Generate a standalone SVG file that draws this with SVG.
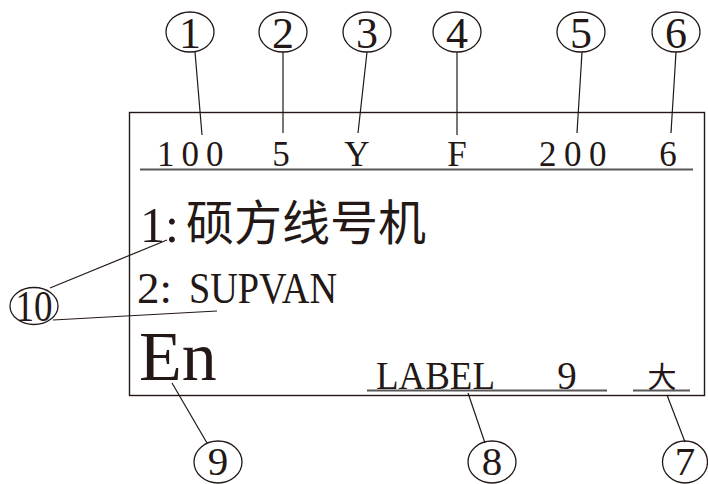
<svg xmlns="http://www.w3.org/2000/svg" width="708" height="484" viewBox="0 0 708 484">
<style>
.bg{fill:#ffffff}
.frame{fill:none;stroke:#231815;stroke-width:1.4}
.rule{stroke:#595757;stroke-width:2}
.lead{stroke:#231815;stroke-width:1.2;fill:none}
.callout{fill:none;stroke:#231815;stroke-width:1.3}
.num{font-family:"Liberation Serif",serif;font-size:44px;fill:#231815;text-anchor:middle}
.numb{font-family:"Liberation Serif",serif;font-size:41px;fill:#231815;text-anchor:middle}
.t{font-family:"Liberation Serif","Noto Sans CJK SC",serif;fill:#231815}
.cjk{font-family:"Noto Sans CJK SC","Liberation Serif",sans-serif;fill:#231815}
</style>
<rect class="bg" x="0" y="0" width="708" height="484"/>

<g id="screen">
<rect class="frame" x="129.5" y="112.5" width="575" height="283"/>
<line class="rule" x1="140" y1="169.5" x2="693" y2="169.5"/>
<line class="rule" x1="367" y1="390.5" x2="607" y2="390.5"/>
<line class="rule" x1="633" y1="390.5" x2="690" y2="390.5"/>
</g>

<g id="header-text">
<text class="t" x="157" y="166" font-size="35" letter-spacing="7">100</text>
<text class="t" x="281" y="166" font-size="35" text-anchor="middle">5</text>
<text class="t" x="357" y="166" font-size="35" text-anchor="middle">Y</text>
<text class="t" x="457" y="166" font-size="35" text-anchor="middle">F</text>
<text class="t" x="539" y="166" font-size="35" letter-spacing="7.5">200</text>
<text class="t" x="668" y="166" font-size="35" text-anchor="middle">6</text>
</g>

<g id="line1">
<text class="t" x="140" y="242" font-size="50">1:</text>
<text class="cjk" x="186" y="240" font-size="48">硕方线号机</text>
</g>

<g id="line2">
<text class="t" x="137" y="303" font-size="45">2:</text>
<text class="t" x="189" y="303" font-size="45" textLength="148" lengthAdjust="spacingAndGlyphs">SUPVAN</text>
</g>

<g id="lang">
<text class="t" x="139" y="380" font-size="70">En</text>
</g>

<g id="label-row">
<text class="t" x="376" y="389" font-size="39" textLength="119" lengthAdjust="spacingAndGlyphs">LABEL</text>
<text class="t" x="567" y="389" font-size="39" text-anchor="middle">9</text>
<text class="cjk" x="662" y="388" font-size="29" text-anchor="middle">大</text>
</g>

<g id="connectors">
<line class="lead" x1="195" y1="52" x2="202" y2="135"/>
<line class="lead" x1="283" y1="52" x2="283" y2="133"/>
<line class="lead" x1="367" y1="52" x2="358" y2="133"/>
<line class="lead" x1="457" y1="52" x2="457" y2="135"/>
<line class="lead" x1="582" y1="52" x2="577" y2="133"/>
<line class="lead" x1="676" y1="52" x2="671" y2="133"/>
<line class="lead" x1="50" y1="288" x2="167" y2="240"/>
<line class="lead" x1="53" y1="320" x2="217" y2="311"/>
<line class="lead" x1="172" y1="383" x2="207" y2="443"/>
<line class="lead" x1="468" y1="393" x2="485" y2="443"/>
<line class="lead" x1="667" y1="395" x2="685" y2="442"/>
</g>

<g id="c1"><ellipse class="callout" cx="190" cy="32" rx="24" ry="20"/><text class="num" x="190" y="48">1</text></g>
<g id="c2"><ellipse class="callout" cx="283" cy="32" rx="24" ry="20"/><text class="num" x="283" y="48">2</text></g>
<g id="c3"><ellipse class="callout" cx="367" cy="32" rx="24" ry="20"/><text class="num" x="367" y="48">3</text></g>
<g id="c4"><ellipse class="callout" cx="457" cy="32" rx="24" ry="20"/><text class="num" x="457" y="48">4</text></g>
<g id="c5"><ellipse class="callout" cx="581" cy="32" rx="24" ry="20"/><text class="num" x="581" y="48">5</text></g>
<g id="c6"><ellipse class="callout" cx="676" cy="32" rx="24" ry="20"/><text class="num" x="676" y="48">6</text></g>
<g id="c7"><ellipse class="callout" cx="685" cy="462" rx="22.5" ry="21"/><text class="numb" x="685" y="475">7</text></g>
<g id="c8"><ellipse class="callout" cx="492" cy="462" rx="24" ry="21"/><text class="numb" x="492" y="475">8</text></g>
<g id="c9"><ellipse class="callout" cx="218" cy="462" rx="24" ry="21"/><text class="numb" x="218" y="475">9</text></g>
<g id="c10"><ellipse class="callout" cx="34" cy="306" rx="24" ry="18.5"/><text class="num" x="34" y="321" textLength="37" lengthAdjust="spacingAndGlyphs">10</text></g>
</svg>
